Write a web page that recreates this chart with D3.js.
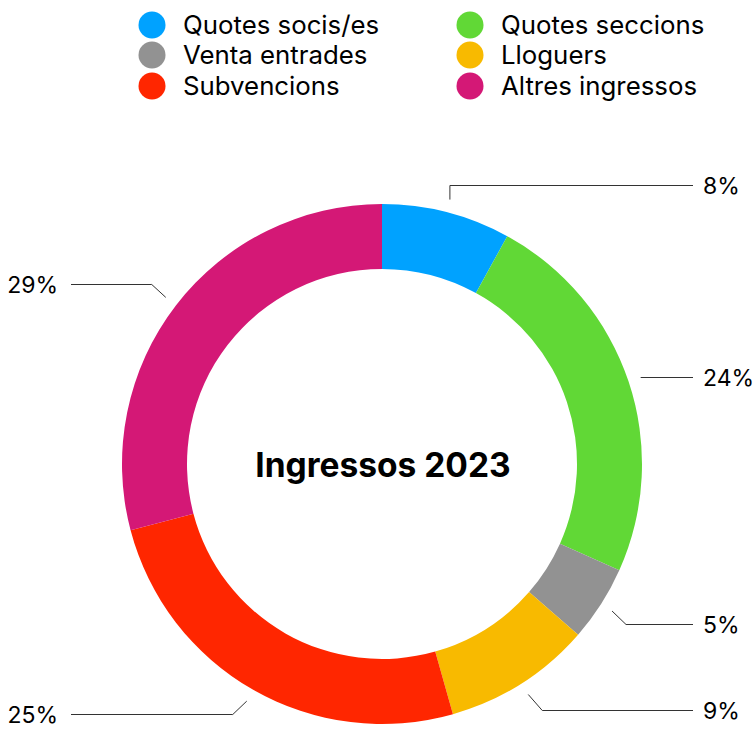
<!DOCTYPE html>
<html>
<head>
<meta charset="utf-8">
<script src="https://cdn.jsdelivr.net/npm/d3@7"></script>
<style>
  html, body { margin: 0; padding: 0; background: #ffffff; }
  svg { display: block; font-family: Inter, "Liberation Sans", Arial, sans-serif; }
</style>
</head>
<body>
<svg id="chart" width="756" height="729"></svg>
<script>
// ---- data ----
const categories = ["Quotes socis/es", "Quotes seccions", "Venta entrades", "Lloguers", "Subvencions", "Altres ingressos"];
const values = [8.0, 23.7, 4.7, 9.2, 25.3, 29.1];
const valueLabels = ["8%", "24%", "5%", "9%", "25%", "29%"];
const colors = ["#00A2FF", "#61D836", "#929292", "#F8BA00", "#FF2600", "#D41876"];
const title = "Ingressos 2023";

// ---- layout ----
const W = 756, H = 729;
const cx = 382, cy = 464;
const rOuter = 260, rInner = 195, rLeader = 273;
// bend of each leader line (dx, dy) from its start point
const leaderBend = [[0, -15], [0, 0], [14, 13], [14, 15], [-14, 13], [-14, -13]];
const leaderEndRight = 693, leaderEndLeft = 71;
const labelRightX = 703, labelLeftX = 58;

const svg = d3.select("#chart");

const data = categories.map((c, i) => ({ cat: c, value: values[i], label: valueLabels[i], color: colors[i], i }));

const pie = d3.pie().sort(null).value(d => d.value).startAngle(0).endAngle(2 * Math.PI);
const arcs = pie(data);
const arc = d3.arc().innerRadius(rInner).outerRadius(rOuter);

const g = svg.append("g").attr("transform", `translate(${cx},${cy})`);
g.selectAll("path.slice")
  .data(arcs)
  .join("path")
  .attr("class", "slice")
  .attr("d", arc)
  .attr("fill", d => d.data.color);

// title
svg.append("text")
  .attr("x", cx + 1)
  .attr("y", cy + 13)
  .attr("text-anchor", "middle")
  .attr("font-weight", "bold")
  .attr("font-size", 33.5)
  .attr("fill", "#000")
  .text(title);

// leader lines + labels
const leaders = svg.append("g");
arcs.forEach((a, k) => {
  const mid = (a.startAngle + a.endAngle) / 2;
  const sx = cx + rLeader * Math.sin(mid);
  const sy = cy - rLeader * Math.cos(mid);
  const right = Math.sin(mid) >= 0;
  const [bx, by] = leaderBend[k];
  const ex = sx + bx, ey = sy + by;
  const endX = right ? leaderEndRight : leaderEndLeft;
  const ly = Math.round(ey) + 0.5;
  leaders.append("path")
    .attr("d", d3.line()([[sx, sy], [ex, ly], [endX, ly]]))
    .attr("fill", "none")
    .attr("stroke", "#333")
    .attr("stroke-width", 1);
  leaders.append("text")
    .attr("x", right ? labelRightX : labelLeftX)
    .attr("y", ly + 8.5)
    .attr("text-anchor", right ? "start" : "end")
    .attr("font-size", 23)
    .attr("fill", "#000")
    .text(a.data.label);
});

// legend
const legendCols = [152, 470];
const legendRows = [25, 55, 86];
const legend = svg.append("g");
data.forEach((d, i) => {
  const col = i % 2, row = Math.floor(i / 2);
  const x = legendCols[col], y = legendRows[row];
  legend.append("circle")
    .attr("cx", x).attr("cy", y).attr("r", 13.5)
    .attr("fill", d.color);
  legend.append("text")
    .attr("x", x + 31)
    .attr("y", y + 9)
    .attr("font-size", 25.8)
    .attr("fill", "#000")
    .text(d.cat);
});
</script>
</body>
</html>
